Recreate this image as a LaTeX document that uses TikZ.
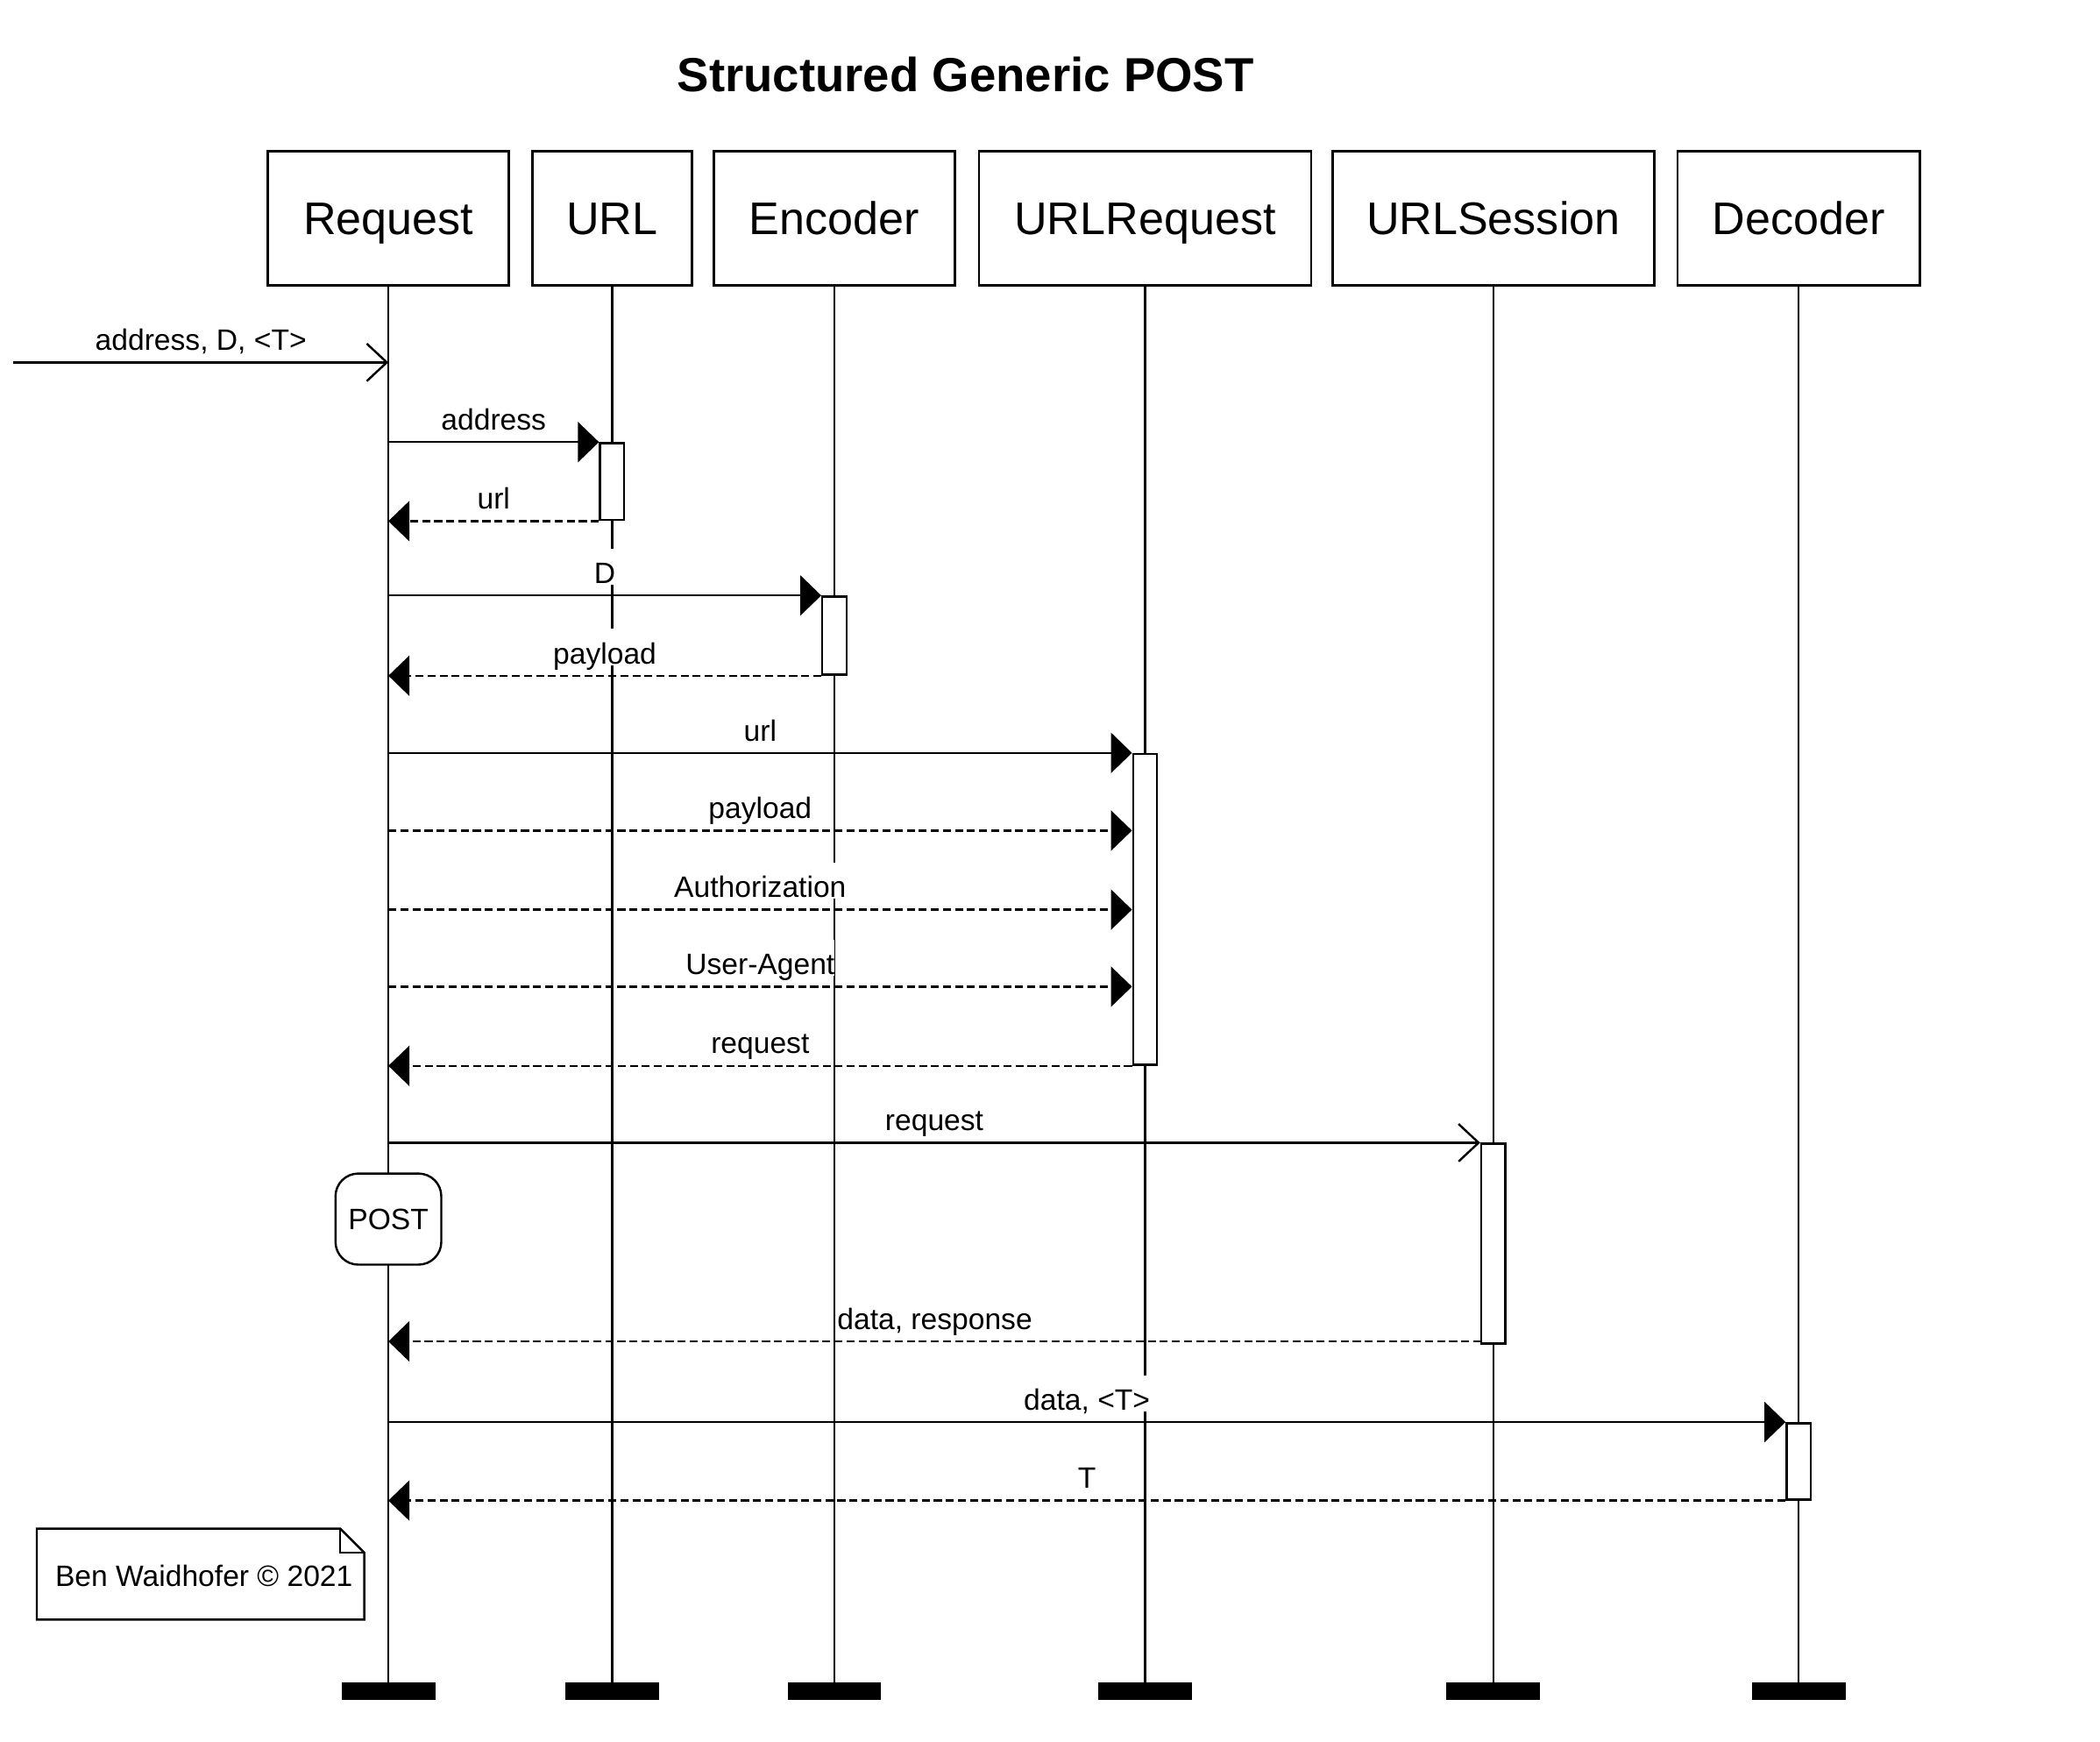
\documentclass[tikz,border=0pt]{standalone}
\usepackage{fontspec}
\setmainfont{Liberation Sans}
\usetikzlibrary{arrows.meta}

\tikzset{
  actor/.style={draw, line width=1.8pt, minimum height=100pt, inner sep=0pt,
    font=\fontsize{34.1}{40}\selectfont, text height=24.4pt, text depth=0pt},
  life/.style={line width=1.6pt},
  endbar/.style={fill=black, minimum width=70pt, minimum height=13pt, inner sep=0pt},
  act/.style={draw, fill=white, line width=1.6pt, minimum width=18pt, inner sep=0pt, anchor=north},
  state/.style={draw, fill=white, line width=1.6pt, rounded corners=17pt, minimum width=79pt,
    minimum height=68pt, inner sep=0pt, font=\fontsize{22}{26}\selectfont, text height=15.8pt, text depth=0pt},
  lbl/.style={fill=white, inner sep=0pt, anchor=base, yshift=9pt,
    font=\fontsize{22}{26}\selectfont, text height=26pt, text depth=1pt},
  call/.style={line width=1.6pt, -{Triangle[length=15.7pt, width=30pt]}},
  reply/.style={call, dash pattern=on 6pt off 3pt},
  async/.style={line width=1.6pt, -{Straight Barb[length=15pt, width=28pt, line width=1.6pt]}},
}

\begin{document}
\begin{tikzpicture}[x=1pt, y=-1pt]
  \useasboundingbox (0,0) rectangle (1568,1300);

  % title
  \node[anchor=base, font=\bfseries\fontsize{35.7}{40}\selectfont] (title) at (721,68.7) {Structured Generic POST};

  % participants
  \node[actor, minimum width=180pt] (req) at (290,163) {Request};
  \node[actor, minimum width=119pt] (url) at (457,163) {URL};
  \node[actor, minimum width=180pt] (enc) at (623,163) {Encoder};
  \node[actor, minimum width=248pt] (ureq) at (855,163) {URLRequest};
  \node[actor, minimum width=240pt] (sess) at (1115,163) {URLSession};
  \node[actor, minimum width=181pt] (dec) at (1343,163) {Decoder};

  % ends of the lifelines
  \node[endbar] (reqEnd) at (290,1262.5) {};
  \node[endbar] (urlEnd) at (457,1262.5) {};
  \node[endbar] (encEnd) at (623,1262.5) {};
  \node[endbar] (ureqEnd) at (855,1262.5) {};
  \node[endbar] (sessEnd) at (1115,1262.5) {};
  \node[endbar] (decEnd) at (1343,1262.5) {};

  \draw[life] (req) -- (reqEnd);
  \draw[life] (url) -- (urlEnd);
  \draw[life] (enc) -- (encEnd);
  \draw[life] (ureq) -- (ureqEnd);
  \draw[life] (sess) -- (sessEnd);
  \draw[life] (dec) -- (decEnd);

  % activations
  \node[act, minimum height=57.4pt] (urlAct) at (457,330) {};
  \node[act, minimum height=58.3pt] (encAct) at (623,444.5) {};
  \node[act, minimum height=232pt] (ureqAct) at (855,562) {};
  \node[act, minimum height=149pt] (sessAct) at (1115,853) {};
  \node[act, minimum height=57pt] (decAct) at (1343,1061.5) {};

  \node[state] (post) at (290,910) {POST};

  % messages
  \coordinate (start) at (10,270.5);
  \draw[async] (start) -- node[lbl] {address, D, <T>} (start -| req);

  \draw[call] (urlAct.north west -| req) -- node[lbl] {address} (urlAct.north west);
  \draw[reply] (urlAct.south west) -- node[lbl] {url} (urlAct.south west -| req);

  \draw[call] (encAct.north west -| req) -- node[lbl] {D} (encAct.north west);
  \draw[reply] (encAct.south west) -- node[lbl] {payload} (encAct.south west -| req);

  \coordinate (body) at (290,620);
  \coordinate (auth) at (290,679);
  \coordinate (agent) at (290,736.5);
  \draw[call] (ureqAct.north west -| req) -- node[lbl] {url} (ureqAct.north west);
  \draw[reply] (body) -- node[lbl] {payload} (body -| ureqAct.west);
  \draw[reply] (auth) -- node[lbl] {Authorization} (auth -| ureqAct.west);
  \draw[reply] (agent) -- node[lbl] {User-Agent} (agent -| ureqAct.west);
  \draw[reply] (ureqAct.south west) -- node[lbl] {request} (ureqAct.south west -| req);

  \coordinate (back) at (1106,1001.3);
  \draw[async] (sessAct.north west -| req) -- node[lbl] {request} (sessAct.north west);
  \draw[reply] (back) -- node[lbl] {data, response} (back -| req);

  \draw[call] (decAct.north west -| req) -- node[lbl] {data, <T>} (decAct.north west);
  \draw[reply] (decAct.south west) -- node[lbl] {T} (decAct.south west -| req);

  % note
  \draw[line width=1.6pt] (27.5,1141) -- (254,1141) -- (272,1159) -- (272,1209)
    -- (27.5,1209) -- cycle;
  \draw[line width=1.6pt] (254,1141) -- (254,1159) -- (272,1159);
  \node[font=\fontsize{22}{26}\selectfont, text height=15.8pt, text depth=0pt, inner sep=0pt] (credit)
    at (152.3,1176) {Ben Waidhofer © 2021};
\end{tikzpicture}
\end{document}
